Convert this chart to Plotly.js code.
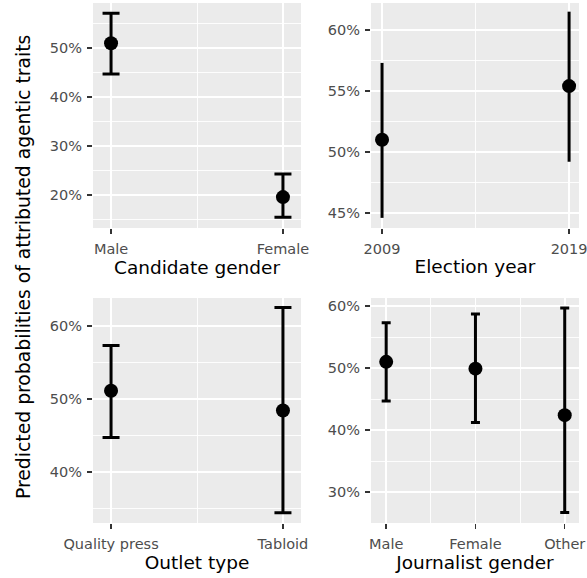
<!DOCTYPE html>
<html>
<head>
<meta charset="utf-8">
<script src="https://cdn.plot.ly/plotly-3.0.1.min.js"></script>
<style>html,body{margin:0;padding:0;background:#fff;}#chart{width:587px;height:578px;}</style>
</head>
<body>
<div id="chart"></div>
<script>
// Candidate gender
const candCats = ['Male', 'Female'];
const candEst  = [0.510, 0.196];
const candLow  = [0.447, 0.155];
const candHigh = [0.571, 0.243];

// Election year
const yearCats = [2009, 2019];
const yearEst  = [0.510, 0.554];
const yearLow  = [0.446, 0.492];
const yearHigh = [0.573, 0.615];

// Outlet type
const outletCats = ['Quality press', 'Tabloid'];
const outletEst  = [0.511, 0.484];
const outletLow  = [0.447, 0.344];
const outletHigh = [0.573, 0.625];

// Journalist gender
const journCats = ['Male', 'Female', 'Other'];
const journEst  = [0.510, 0.499, 0.424];
const journLow  = [0.447, 0.412, 0.267];
const journHigh = [0.573, 0.587, 0.597];

const yTitle = 'Predicted probabilities of attributed agentic traits';

function idx(arr){ return arr.map((c,i)=>i+1); }
function trace(xs, est, low, high, xa, ya, capw){
  return {
    type:'scatter', mode:'markers', x:xs, y:est, xaxis:xa, yaxis:ya,
    marker:{color:'#000', size:14},
    error_y:{type:'data', symmetric:false,
      array: high.map((h,i)=>h-est[i]),
      arrayminus: est.map((e,i)=>e-low[i]),
      color:'#000', thickness:3, width:capw},
    showlegend:false, hoverinfo:'skip'
  };
}

const data = [
  trace(idx(candCats), candEst, candLow, candHigh, 'x', 'y', 8.5),
  trace(yearCats, yearEst, yearLow, yearHigh, 'x2', 'y2', 0),
  trace(idx(outletCats), outletEst, outletLow, outletHigh, 'x3', 'y3', 8.5),
  trace(idx(journCats), journEst, journLow, journHigh, 'x4', 'y4', 4.5)
];

const FAM = 'DejaVu Sans, Liberation Sans, Arial, sans-serif';
const tickFont = {family:FAM, size:14.5, color:'#4d4d4d'};
const titleFont = {family:FAM, size:18.5, color:'#000'};
const yTitleFont = {family:FAM, size:18.8, color:'#000'};

function xax(domain, anchor, range, tickvals, ticktext, minorVals, title, standoff){
  return {
    domain:domain, anchor:anchor, range:range, tickmode:'array', tickvals:tickvals, ticktext:ticktext,
    showgrid:true, gridcolor:'#fff', gridwidth:1.8, zeroline:false, showline:false,
    ticks:'outside', ticklen:5, tickwidth:1.5, tickcolor:'#333', tickfont:tickFont,
    ticklabelstandoff:3, ticklabeloverflow:'allow',
    minor:{tickmode:'array', tickvals:minorVals, showgrid:true, gridcolor:'#fff', gridwidth:0.9},
    title:{text:title, font:titleFont, standoff:standoff}, fixedrange:true
  };
}
function yax(domain, anchor, range, dtick, minorD){
  return {
    domain:domain, anchor:anchor, range:range, dtick:dtick, tick0:0, tickformat:'.0%',
    showgrid:true, gridcolor:'#fff', gridwidth:1.8, zeroline:false, showline:false,
    ticks:'outside', ticklen:5, tickwidth:1.5, tickcolor:'#333', tickfont:tickFont,
    ticklabelstandoff:2,
    minor:{dtick:minorD, tick0:0, showgrid:true, gridcolor:'#fff', gridwidth:0.9},
    fixedrange:true
  };
}

const xL = [93/587, 301/587], xR = [371/587, 579/587];
const yT = [1-228/578, 1-3/578], yB = [1-523/578, 1-298/578];

const layout = {
  width:587, height:578, margin:{l:0, r:0, t:0, b:0},
  paper_bgcolor:'#fff', plot_bgcolor:'#ebebeb', font:{family:FAM}, showlegend:false,
  xaxis:  xax(xL, 'y',  [0.895, 2.105], idx(candCats), candCats, [1.5], 'Candidate gender', 0),
  xaxis2: xax(xR, 'y2', [2008.41, 2019.53], yearCats, yearCats.map(String), [2014], 'Election year', 3),
  xaxis3: xax(xL, 'y3', [0.895, 2.105], idx(outletCats), outletCats, [1.5], 'Outlet type', 0),
  xaxis4: xax(xR, 'y4', [0.83, 3.16], idx(journCats), journCats, [1.5, 2.5], 'Journalist gender', 0),
  yaxis:  yax(yT, 'x',  [0.133, 0.592], 0.1, 0.05),
  yaxis2: yax(yT, 'x2', [0.4377, 0.6221], 0.05, 0.025),
  yaxis3: yax(yB, 'x3', [0.330, 0.638], 0.1, 0.05),
  yaxis4: yax(yB, 'x4', [0.25, 0.613], 0.1, 0.05),
  annotations:[{
    text:yTitle, xref:'paper', yref:'paper', x:23/587, y:1-267/578,
    xanchor:'center', yanchor:'middle', textangle:-90, showarrow:false, font:yTitleFont
  }]
};

Plotly.newPlot('chart', data, layout, {staticPlot:true, displayModeBar:false});
</script>
</body>
</html>
